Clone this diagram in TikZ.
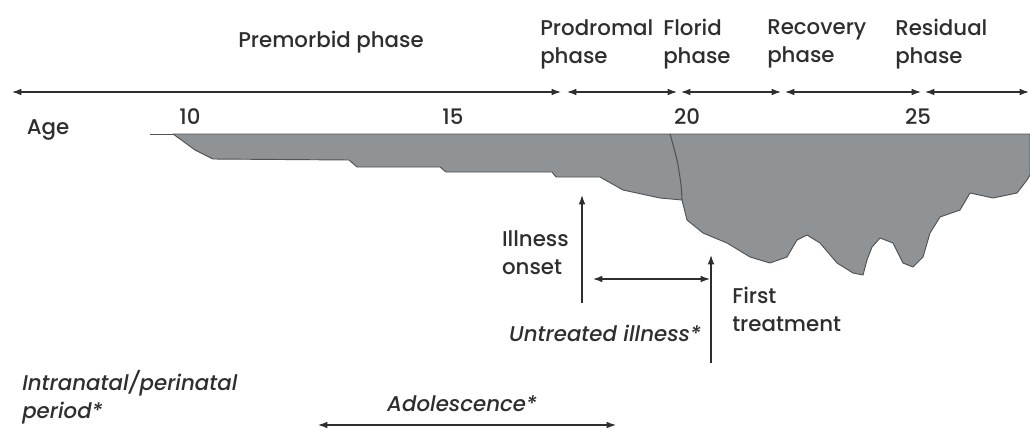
\documentclass[tikz,border=0pt]{standalone}
\usepackage{fontspec}
\setmainfont{Poppins}[UprightFont={* Medium}, ItalicFont={* Medium Italic}]
\usetikzlibrary{arrows.meta}
\definecolor{ink}{HTML}{2E2E2E}
\definecolor{shade}{HTML}{909396}
\definecolor{edge}{HTML}{505356}
\tikzset{
  lbl/.style={inner sep=0pt, font=\fontsize{16}{21}\selectfont, text=ink},
  ilbl/.style={lbl, font=\fontsize{16}{21}\selectfont\itshape},
  tip/.style={-{Latex[length=7pt,width=5pt]}},
  dtip/.style={{Latex[length=7pt,width=5pt]}-{Latex[length=7pt,width=5pt]}},
  conn/.style={draw=ink, line width=0.9pt}
}
\begin{document}
\begin{tikzpicture}[x=0.75pt,y=-0.75pt]
\useasboundingbox (0,0) rectangle (1030,432);
% axis coordinates
\coordinate (a0) at (12,92);
\coordinate (a1) at (561,92);
\coordinate (a2) at (567,92);
\coordinate (a3) at (677,92);
\coordinate (a4) at (681,92);
\coordinate (a5) at (781,92);
\coordinate (a6) at (785,92);
\coordinate (a7) at (921,92);
\coordinate (a8) at (925,92);
\coordinate (a9) at (1029,92);
\draw[conn,dtip] (a0) -- (a1);
\draw[conn,dtip] (a2) -- (a3);
\draw[conn,dtip] (a4) -- (a5);
\draw[conn,dtip] (a6) -- (a7);
\draw[conn,dtip] (a8) -- (a9);
% phase labels
\node[lbl] (premorbid) at (331,42) {Premorbid phase};
\node[lbl,anchor=west,align=left] (prodromal) at (540,44) {Prodromal\\phase};
\node[lbl,anchor=west,align=left] (florid) at (663,44) {Florid\\phase};
\node[lbl,anchor=west,align=left] (recovery) at (767,44) {Recovery\\phase};
\node[lbl,anchor=west,align=left] (residual) at (895,44) {Residual\\phase};
% ages
\node[lbl] (age) at (48,130) {Age};
\node[lbl] (ten) at (190,117) {10};
\node[lbl] (fifteen) at (453,117) {15};
\node[lbl] (twenty) at (687,117) {20};
\node[lbl] (twentyfive) at (918,117) {25};
% illness shape
\draw[edge, line width=0.7pt] (150,134) -- (173,134);
\filldraw[fill=shade, draw=edge, line width=0.7pt, line join=round]
 (173,134) -- (1030,134) -- (1030,175)
 -- (1027,180) -- (1017,193) -- (993,198) -- (970,193) -- (960,210) -- (940,217)
 -- (930,233) -- (923,257) -- (913,267) -- (903,263) -- (893,243) -- (880,238)
 -- (872,247) -- (867,260) -- (863,275) -- (853,273) -- (837,263) -- (820,243)
 -- (807,235) -- (797,240) -- (787,257) -- (770,263) -- (750,257) -- (727,243)
 -- (703,233) -- (687,220) -- (682,200) -- (660,198) -- (623,190) -- (600,177)
 -- (556,177) -- (552,172) -- (446,172) -- (440,167) -- (357,167) -- (349,160)
 -- (213,159) -- (195,150) -- (180,139) -- cycle;
\draw[edge, line width=0.8pt] plot[smooth] coordinates {(670,134) (677,160) (681,185) (682,200)};
% illness onset
\coordinate (onsetbot) at (582,303);
\coordinate (onsettop) at (582,195);
\draw[conn,tip] (onsetbot) -- (onsettop);
\node[lbl,anchor=east,align=left] (onset) at (569,253) {Illness\\onset};
% first treatment
\coordinate (treatbot) at (711,363);
\coordinate (treattop) at (711,255);
\draw[conn,tip] (treatbot) -- (treattop);
\node[lbl,anchor=west,align=left] (treat) at (732,309) {First\\treatment};
% untreated
\coordinate (untl) at (593,279);
\coordinate (untr) at (710,279);
\draw[conn,dtip] (untl) -- (untr);
\node[ilbl] (untreated) at (605,333) {Untreated illness*};
% perinatal
\node[ilbl,anchor=west,align=left] (perinatal) at (22,397) {Intranatal/perinatal\\period*};
% adolescence
\node[ilbl] (adol) at (462,404) {Adolescence*};
\coordinate (adl) at (318,425);
\coordinate (adr) at (616,425);
\draw[conn,dtip] (adl) -- (adr);
\end{tikzpicture}
\end{document}
